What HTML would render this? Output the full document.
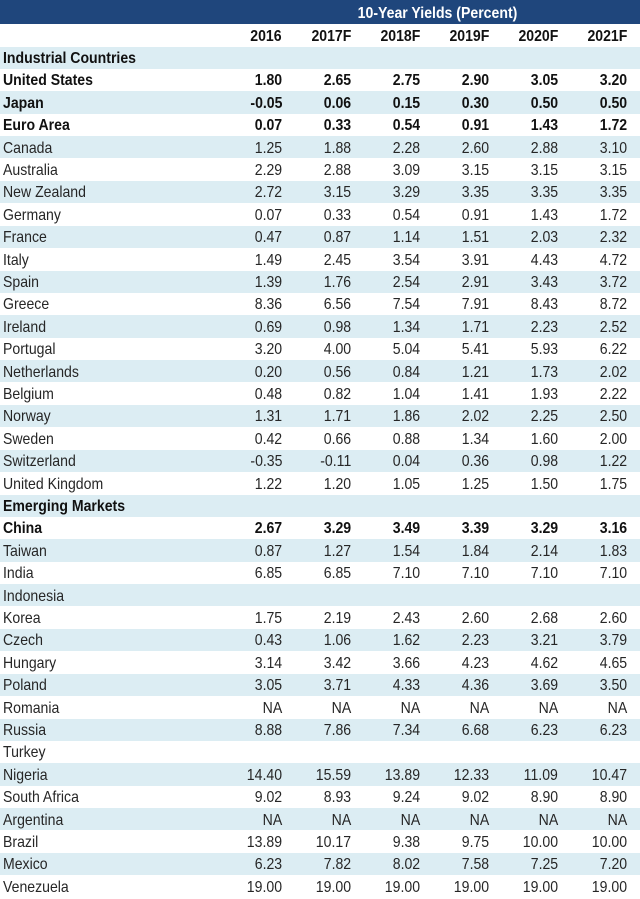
<!DOCTYPE html>
<html><head><meta charset="utf-8">
<style>
html,body{margin:0;padding:0;background:#fff;}
#wrap{position:relative;width:640px;height:899px;overflow:hidden;font-family:"Liberation Sans",Arial,sans-serif;color:#262626;}
.band{position:absolute;left:0;width:640px;}
.t{position:absolute;font-size:16px;line-height:22px;white-space:nowrap;transform:scaleX(0.88);}
.l{transform-origin:left center;}
.r{transform-origin:right center;text-align:right;}
.b{font-weight:bold;color:#111;}
</style></head><body>
<div id="wrap">
  <div class="band" style="top:0;height:24px;background:#1f467c;"></div>
  <div class="t b" style="left:245px;width:385px;text-align:center;top:3px;color:#fff;transform:scaleX(0.88);transform-origin:center;">10-Year Yields (Percent)</div>
</div>
<script>
const years = ["2016","2017F","2018F","2019F","2020F","2021F"];
const countries = ["Industrial Countries","United States","Japan","Euro Area","Canada","Australia","New Zealand","Germany","France","Italy","Spain","Greece","Ireland","Portugal","Netherlands","Belgium","Norway","Sweden","Switzerland","United Kingdom","Emerging Markets","China","Taiwan","India","Indonesia","Korea","Czech","Hungary","Poland","Romania","Russia","Turkey","Nigeria","South Africa","Argentina","Brazil","Mexico","Venezuela"];
const boldRows = ["Industrial Countries","United States","Japan","Euro Area","Emerging Markets","China"];
const values = [
 null,
 ["1.80","2.65","2.75","2.90","3.05","3.20"],
 ["-0.05","0.06","0.15","0.30","0.50","0.50"],
 ["0.07","0.33","0.54","0.91","1.43","1.72"],
 ["1.25","1.88","2.28","2.60","2.88","3.10"],
 ["2.29","2.88","3.09","3.15","3.15","3.15"],
 ["2.72","3.15","3.29","3.35","3.35","3.35"],
 ["0.07","0.33","0.54","0.91","1.43","1.72"],
 ["0.47","0.87","1.14","1.51","2.03","2.32"],
 ["1.49","2.45","3.54","3.91","4.43","4.72"],
 ["1.39","1.76","2.54","2.91","3.43","3.72"],
 ["8.36","6.56","7.54","7.91","8.43","8.72"],
 ["0.69","0.98","1.34","1.71","2.23","2.52"],
 ["3.20","4.00","5.04","5.41","5.93","6.22"],
 ["0.20","0.56","0.84","1.21","1.73","2.02"],
 ["0.48","0.82","1.04","1.41","1.93","2.22"],
 ["1.31","1.71","1.86","2.02","2.25","2.50"],
 ["0.42","0.66","0.88","1.34","1.60","2.00"],
 ["-0.35","-0.11","0.04","0.36","0.98","1.22"],
 ["1.22","1.20","1.05","1.25","1.50","1.75"],
 null,
 ["2.67","3.29","3.49","3.39","3.29","3.16"],
 ["0.87","1.27","1.54","1.84","2.14","1.83"],
 ["6.85","6.85","7.10","7.10","7.10","7.10"],
 null,
 ["1.75","2.19","2.43","2.60","2.68","2.60"],
 ["0.43","1.06","1.62","2.23","3.21","3.79"],
 ["3.14","3.42","3.66","4.23","4.62","4.65"],
 ["3.05","3.71","4.33","4.36","3.69","3.50"],
 ["NA","NA","NA","NA","NA","NA"],
 ["8.88","7.86","7.34","6.68","6.23","6.23"],
 null,
 ["14.40","15.59","13.89","12.33","11.09","10.47"],
 ["9.02","8.93","9.24","9.02","8.90","8.90"],
 ["NA","NA","NA","NA","NA","NA"],
 ["13.89","10.17","9.38","9.75","10.00","10.00"],
 ["6.23","7.82","8.02","7.58","7.25","7.20"],
 ["19.00","19.00","19.00","19.00","19.00","19.00"]
];
const wrap = document.getElementById('wrap');
const colRight = i => 282 + i * 69;
const rowTop = i => 46.5 + i * 22.4;
const slug = s => s.toLowerCase().replace(/[^a-z0-9]+/g,'-');
function txt(s, cls, left, top, right){
  const d = document.createElement('div');
  d.className = 't ' + cls;
  d.textContent = s;
  d.style.top = top + 'px';
  if (right !== undefined) { d.style.right = (640 - right) + 'px'; } else { d.style.left = left + 'px'; }
  wrap.appendChild(d);
  return d;
}
years.forEach((y, i) => {
  const d = txt(y, 'r b', 0, 25.5, colRight(i));
  
  
});
countries.forEach((c, r) => {
  const top = rowTop(r);
  if (r % 2 === 0) {
    const band = document.createElement('div');
    band.className = 'band';
    band.style.top = top + 'px';
    band.style.height = '22.4px';
    band.style.background = '#dcedf3';
    
    
    wrap.appendChild(band);
  }
  const bold = boldRows.includes(c) ? ' b' : '';
  const lab = txt(c, 'l' + bold, 3, top + 1.5);
  
  
  const v = values[r];
  if (v) v.forEach((val, i) => {
    const cell = txt(val, 'r' + bold, 0, top + 1.5, colRight(i));
    
    
  });
});
</script>
</body></html>
